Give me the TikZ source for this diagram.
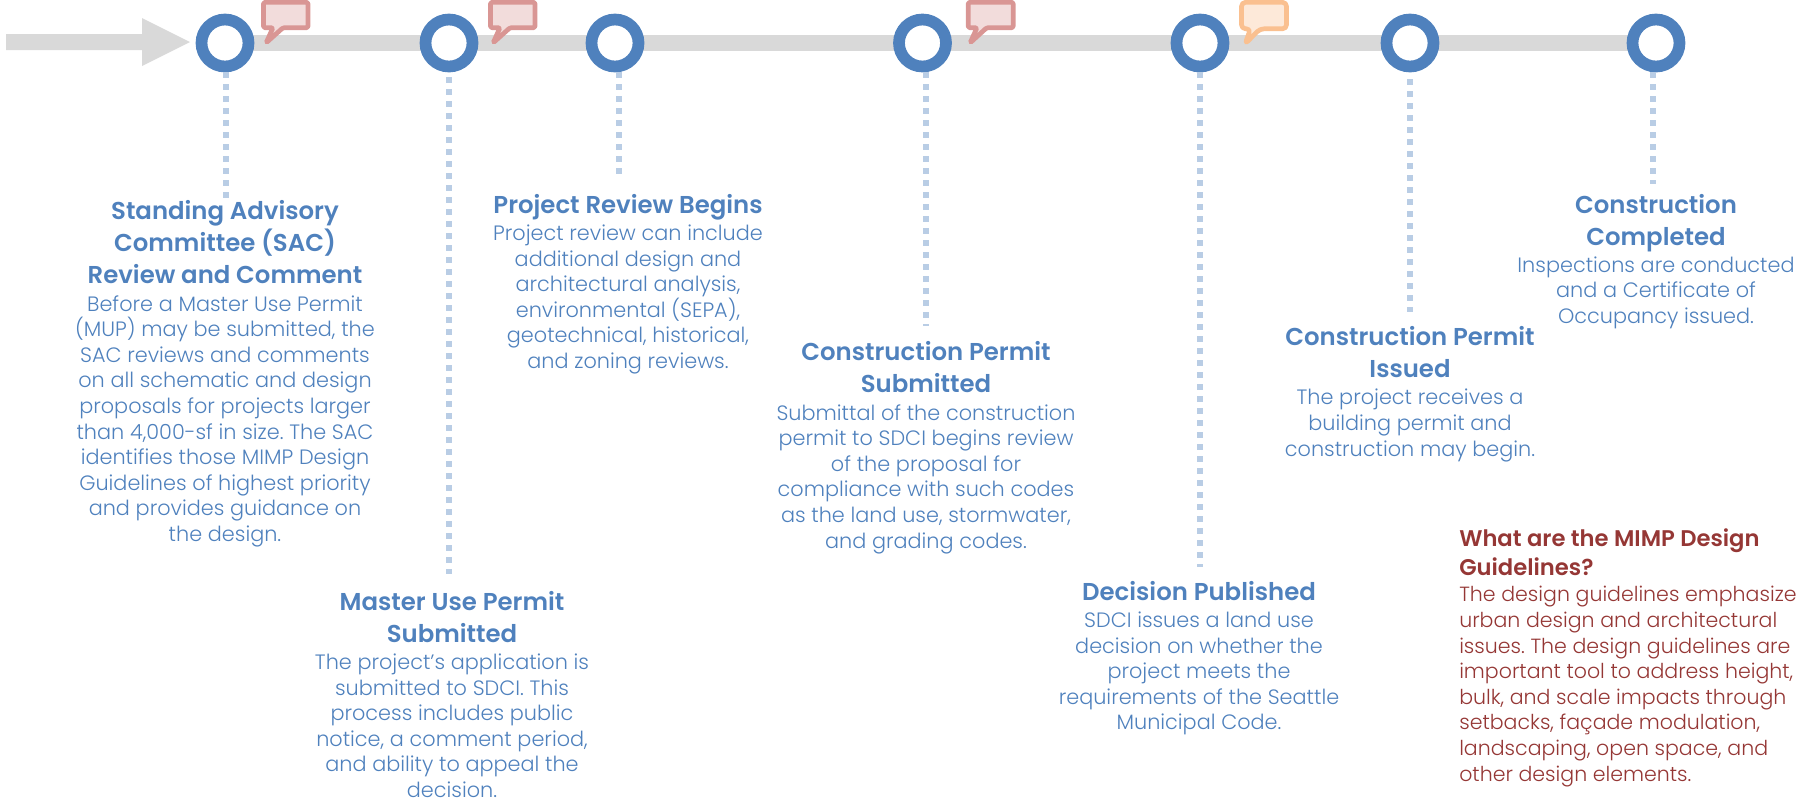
\documentclass[tikz,border=0pt]{standalone}
\usepackage{fontspec}
\setmainfont{Poppins Light}[BoldFont={Poppins SemiBold}]
\frenchspacing
\usetikzlibrary{positioning}
\definecolor{ringblue}{HTML}{4F81BD}
\definecolor{dotblue}{HTML}{B9CDE5}
\definecolor{bargray}{HTML}{D9D9D9}
\definecolor{noteline}{HTML}{D99694}
\definecolor{notefill}{HTML}{F2DCDB}
\definecolor{warnline}{HTML}{FAC090}
\definecolor{warnfill}{HTML}{FDE9D9}
\definecolor{guidered}{HTML}{953735}
\tikzset{
	ring/.style={draw=ringblue, fill=white, circle, line width=8.8pt, inner sep=0pt, minimum size=35.25pt},
	leader/.style={dotblue, line width=4.7pt, dash pattern=on 4.5pt off 4.5pt},
	steptitle/.style={ringblue, align=center, inner sep=0pt, anchor=north, font=\fontsize{18.3}{24}\selectfont\bfseries},
	stepbody/.style={ringblue, align=center, inner sep=0pt, font=\fontsize{15.6}{19.2}\selectfont},
	notebox/.style={draw=noteline, fill=notefill, line width=3.5pt, line join=round},
	warnbox/.style={draw=warnline, fill=warnfill, line width=3.5pt, line join=round},
}
\begin{document}
\begin{tikzpicture}[x=0.75pt, y=-0.75pt]
	\clip (0,0) rectangle (1797,804);
	\fill[bargray] (6,34) -- (142,34) -- (142,18) -- (190,42) -- (142,66) -- (142,50) -- (6,50) -- cycle;
	\fill[bargray] (224,35) rectangle (1656,51);
	% timeline stops
	\node[ring] (ring1) at (225,43) {};
	\node[ring] (ring2) at (449,43) {};
	\node[ring] (ring3) at (615,43) {};
	\node[ring] (ring4) at (922.5,43) {};
	\node[ring] (ring5) at (1200,43) {};
	\node[ring] (ring6) at (1410,43) {};
	\node[ring] (ring7) at (1656,43) {};
	% free ends of the leaders
	\coordinate (end1) at (226,200);
	\coordinate (end2) at (449,574);
	\coordinate (end3) at (619,180);
	\coordinate (end4) at (926,326);
	\coordinate (end5) at (1200,567);
	\coordinate (end6) at (1410,312);
	\coordinate (end7) at (1653,184);
	\draw[leader] (ring1.south -| end1) -- (end1);
	\draw[leader, shorten <=3.5pt] (ring2.south -| end2) -- (end2);
	\draw[leader] (ring3.south -| end3) -- (end3);
	\draw[leader] (ring4.south -| end4) -- (end4);
	\draw[leader] (ring5.south -| end5) -- (end5);
	\draw[leader, shorten <=5pt] (ring6.south -| end6) -- (end6);
	\draw[leader] (ring7.south -| end7) -- (end7);
	% comment bubbles
	\draw[notebox, rounded corners=1pt] (263.5,2.3) -- (308,2.3) -- (308,27.7) -- (283,27.7) -- (266,43) -- (273,27.7) -- (263.5,27.7) -- cycle;
	\draw[notebox, rounded corners=1pt] (490.5,2.3) -- (535,2.3) -- (535,27.7) -- (510,27.7) -- (493,43) -- (500,27.7) -- (490.5,27.7) -- cycle;
	\draw[notebox, rounded corners=1pt] (968.2,2.3) -- (1013.2,2.3) -- (1013.2,27.7) -- (986.7,27.7) -- (970,43) -- (977,27.7) -- (968.2,27.7) -- cycle;
	\draw[warnbox, rounded corners=3pt] (1241.5,2.3) -- (1286.5,2.3) -- (1286.5,28.8) -- (1260,28.8) -- (1245,44) -- (1250.5,28.8) -- (1241.5,28.8) -- cycle;
	% texts
	\node[steptitle] (title1) at (225,200.5) {Standing Advisory\\Committee (SAC)\\Review and Comment};
	\node[stepbody, below=8pt of title1] (body1) {Before a Master Use Permit\\(MUP) may be submitted, the\\SAC reviews and comments\\on all schematic and design\\proposals for projects larger\\than 4,000-sf in size. The SAC\\identifies those MIMP Design\\Guidelines of highest priority\\and provides guidance on\\the design.};
	\node[steptitle] (title2) at (452,591) {Master Use Permit\\Submitted};
	\node[stepbody, below=8pt of title2] (body2) {The project’s application is\\submitted to SDCI. This\\process includes public\\notice, a comment period,\\and ability to appeal the\\decision.};
	\node[steptitle] (title3) at (628,194.5) {Project Review Begins};
	\node[stepbody, below=2.8pt of title3] (body3) {Project review can include\\additional design and\\architectural analysis,\\environmental (SEPA),\\geotechnical, historical,\\and zoning reviews.};
	\node[steptitle] (title4) at (926,341.5) {Construction Permit\\Submitted};
	\node[stepbody, below=8pt of title4] (body4) {Submittal of the construction\\permit to SDCI begins review\\of the proposal for\\compliance with such codes\\as the land use, stormwater,\\and grading codes.};
	\node[steptitle] (title5) at (1199,581) {Decision Published};
	\node[stepbody, below=8pt of title5] (body5) {SDCI issues a land use\\decision on whether the\\project meets the\\requirements of the Seattle\\Municipal Code.};
	\node[steptitle] (title6) at (1410,326.5) {Construction Permit\\Issued};
	\node[stepbody, below=8pt of title6] (body6) {The project receives a\\building permit and\\construction may begin.};
	\node[steptitle] (title7) at (1656,194.5) {Construction\\Completed};
	\node[stepbody, below=2.8pt of title7] (body7) {Inspections are conducted\\and a Certificate of\\Occupancy issued.};
	\node[steptitle, guidered, align=left, anchor=north west, font=\fontsize{17}{21.8}\selectfont\bfseries] (title8) at (1459,528) {What are the MIMP Design\\Guidelines?};
	\node[stepbody, guidered, align=left, font=\fontsize{15.4}{19.2}\selectfont, below=8pt of title8.south west, anchor=north west] (body8) {The design guidelines emphasize\\urban design and architectural\\issues. The design guidelines are an\\important tool to address height,\\bulk, and scale impacts through\\setbacks, façade modulation,\\landscaping, open space, and\\other design elements.};
\end{tikzpicture}
\end{document}
